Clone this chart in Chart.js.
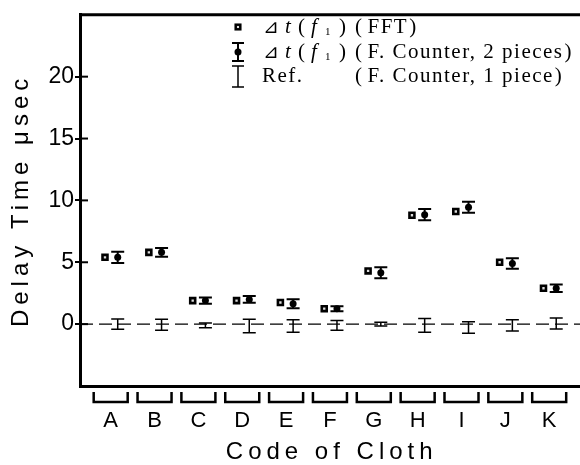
<!DOCTYPE html>
<html lang="en">
<head>
<meta charset="UTF-8">
<title>Delay Time by Code of Cloth</title>
<script src="https://cdn.jsdelivr.net/npm/chart.js"></script>
<style>
    html, body { margin: 0; padding: 0; background: #fff; overflow: hidden; }
    .wrap { width: 590px; height: 465px; }
</style>
</head>
<body>
<div class="wrap"><canvas id="delayChart" width="590" height="465"></canvas></div>
<script>
    // cloth codes and measured delay times (usec)
    const cloths = ['A', 'B', 'C', 'D', 'E', 'F', 'G', 'H', 'I', 'J', 'K'];
    const fftDelay = [5.4, 5.8, 1.9, 1.9, 1.75, 1.25, 4.3, 8.8, 9.1, 5.0, 2.9];
    const counterDelay = [5.4, 5.8, 1.9, 2.0, 1.65, 1.25, 4.15, 8.85, 9.45, 4.9, 2.9];
    const counterErr = [0.45, 0.35, 0.25, 0.28, 0.37, 0.2, 0.45, 0.45, 0.45, 0.42, 0.3];
    const refDelay = [0, -0.05, -0.1, -0.15, -0.15, -0.1, 0, -0.1, -0.27, -0.1, 0.05];
    const refErr = [0.42, 0.45, 0.2, 0.55, 0.5, 0.4, 0.15, 0.55, 0.47, 0.45, 0.45];
    const yTicks = [0, 5, 10, 15, 20];

    const xMin = -0.7, xMax = 10.78;
    const fftOffset = -0.13;   // square sits left of the bracket centre
    const barOffset = 0.16;    // error bars sit right of it

    const sans = '"Liberation Sans", Arial, sans-serif';
    const serif = '"Liberation Serif", "Times New Roman", serif';

    function errBar(ctx, x, yTop, yBot, cap, lw) {
        ctx.lineWidth = lw;
        ctx.beginPath();
        ctx.moveTo(x, yTop); ctx.lineTo(x, yBot);
        ctx.moveTo(x - cap, yTop); ctx.lineTo(x + cap, yTop);
        ctx.moveTo(x - cap, yBot); ctx.lineTo(x + cap, yBot);
        ctx.stroke();
    }

    // error bars for counter and reference measurements
    const errorBars = {
        id: 'errorBars',
        beforeDatasetsDraw(chart) {
            const { ctx, scales: { x, y } } = chart;
            ctx.save();
            ctx.strokeStyle = '#000';
            cloths.forEach((c, i) => {
                const px = x.getPixelForValue(i + barOffset);
                errBar(ctx, px, y.getPixelForValue(counterDelay[i] + counterErr[i]),
                    y.getPixelForValue(counterDelay[i] - counterErr[i]), 6.5, 2);
                errBar(ctx, px, y.getPixelForValue(refDelay[i] + refErr[i]),
                    y.getPixelForValue(refDelay[i] - refErr[i]), 6.5, 1.5);
            });
            ctx.restore();
        }
    };

    // paren + text + paren, spaced a bit like full-width brackets
    function parenText(ctx, text, x, y) {
        ctx.fillText('(', x, y);
        x += ctx.measureText('(').width + 4;
        ctx.fillText(text, x, y);
        x += ctx.measureText(text).width + 1;
        ctx.fillText(')', x, y);
    }

    // frame bits, brackets, titles and legend
    const decorations = {
        id: 'decorations',
        afterDraw(chart) {
            const { ctx, chartArea: a, scales: { x, y } } = chart;
            ctx.save();
            ctx.strokeStyle = '#000';
            ctx.fillStyle = '#000';

            // top border
            ctx.lineWidth = 3;
            ctx.beginPath();
            ctx.moveTo(a.left, a.top); ctx.lineTo(a.right, a.top);
            ctx.stroke();

            // inward tick marks
            ctx.lineWidth = 2;
            yTicks.forEach(v => {
                const py = y.getPixelForValue(v);
                ctx.beginPath();
                ctx.moveTo(a.left, py); ctx.lineTo(a.left + 8, py);
                ctx.stroke();
            });

            // brackets under each cloth
            ctx.lineWidth = 2.5;
            cloths.forEach((c, i) => {
                const px = x.getPixelForValue(i);
                ctx.beginPath();
                ctx.moveTo(px - 17, a.bottom + 6);
                ctx.lineTo(px - 17, a.bottom + 16);
                ctx.lineTo(px + 17, a.bottom + 16);
                ctx.lineTo(px + 17, a.bottom + 6);
                ctx.stroke();
            });

            // axis titles
            ctx.font = '24px ' + sans;
            ctx.letterSpacing = '5px';
            ctx.textAlign = 'center';
            ctx.textBaseline = 'alphabetic';
            ctx.fillText('Code of Cloth', (a.left + a.right) / 2, 459);
            ctx.save();
            ctx.translate(21, (a.top + a.bottom) / 2);
            ctx.rotate(-Math.PI / 2);
            ctx.textBaseline = 'middle';
            ctx.fillText('Delay Time \u03bcsec', 0, 0);
            ctx.restore();
            ctx.letterSpacing = '0px';

            // legend
            const mx = 238;
            ctx.lineWidth = 2.5;
            ctx.fillStyle = '#ddd';
            ctx.fillRect(mx - 2.3, 24.7, 4.6, 4.6);
            ctx.strokeRect(mx - 2.3, 24.7, 4.6, 4.6);
            ctx.fillStyle = '#000';
            errBar(ctx, mx, 43, 61, 6, 2);
            ctx.beginPath(); ctx.arc(mx, 52, 3.5, 0, Math.PI * 2); ctx.fill();
            errBar(ctx, mx, 66, 87, 6, 1.5);

            ctx.textAlign = 'left';
            ctx.textBaseline = 'alphabetic';
            const rows = [[33, 'FFT'], [58, 'F. Counter, 2 pieces']];
            rows.forEach(([by, tail]) => {
                ctx.font = '19px ' + serif;
                ctx.fillText('\u22bf', 263, by);
                ctx.font = 'italic 21px ' + serif;
                ctx.fillText('t', 285, by);
                ctx.font = '21px ' + serif;
                ctx.fillText('(', 298, by);
                ctx.font = 'italic 21px ' + serif;
                ctx.fillText('f', 311, by);
                ctx.font = '11px ' + serif;
                ctx.fillText('1', 325, by + 2);
                ctx.font = '21px ' + serif;
                ctx.fillText(')', 339, by);
                ctx.letterSpacing = '1.5px';
                parenText(ctx, tail, 355, by);
                ctx.letterSpacing = '0px';
            });
            ctx.font = '21px ' + serif;
            ctx.letterSpacing = '1.5px';
            ctx.fillText('Ref.', 262, 82);
            parenText(ctx, 'F. Counter, 1 piece', 355, 82);
            ctx.restore();
        }
    };

    const ctx = document.getElementById('delayChart').getContext('2d');
    const chart = new Chart(ctx, {
        type: 'scatter',
        data: {
            datasets: [{
                label: 'FFT',
                data: cloths.map((c, i) => ({ x: i + fftOffset, y: fftDelay[i] })),
                pointStyle: 'rect',
                pointRadius: 3.5,
                pointBorderWidth: 2.6,
                pointBackgroundColor: '#ddd',
                pointBorderColor: '#000'
            }, {
                label: 'F. Counter, 2 pieces',
                data: cloths.map((c, i) => ({ x: i + barOffset, y: counterDelay[i] })),
                pointStyle: 'circle',
                pointRadius: 3.5,
                pointBorderWidth: 0,
                pointBackgroundColor: '#000'
            }, {
                label: 'Ref.',
                data: cloths.map((c, i) => ({ x: i + barOffset, y: refDelay[i] })),
                pointRadius: 0
            }, {
                label: 'zero',
                type: 'line',
                data: [{ x: xMin, y: 0 }, { x: xMax, y: 0 }],
                borderColor: '#000',
                borderWidth: 1.2,
                borderDash: [13, 6],
                pointRadius: 0
            }]
        },
        options: {
            responsive: false,
            animation: false,
            layout: { padding: { top: 12, right: 5, left: 0, bottom: 0 } },
            plugins: { legend: { display: false }, tooltip: { enabled: false } },
            scales: {
                x: {
                    type: 'linear',
                    min: xMin,
                    max: xMax,
                    afterFit(s) { s.height = 79; },
                    afterBuildTicks(s) { s.ticks = cloths.map((c, i) => ({ value: i })); },
                    grid: { display: true, drawOnChartArea: false, drawTicks: false },
                    border: { display: true, color: '#000', width: 3 },
                    ticks: {
                        padding: 22,
                        color: '#000',
                        font: { family: sans, size: 22 },
                        callback: v => cloths[v]
                    }
                },
                y: {
                    min: -5,
                    max: 25,
                    afterFit(s) { s.width = 80; },
                    afterBuildTicks(s) { s.ticks = yTicks.map(v => ({ value: v })); },
                    grid: { display: true, drawOnChartArea: false, drawTicks: true, tickLength: 5, color: '#000', lineWidth: 2 },
                    border: { display: true, color: '#000', width: 3 },
                    ticks: {
                        padding: 1,
                        color: '#000',
                        font: { family: sans, size: 23 }
                    }
                }
            }
        },
        plugins: [errorBars, decorations]
    });
</script>
</body>
</html>
